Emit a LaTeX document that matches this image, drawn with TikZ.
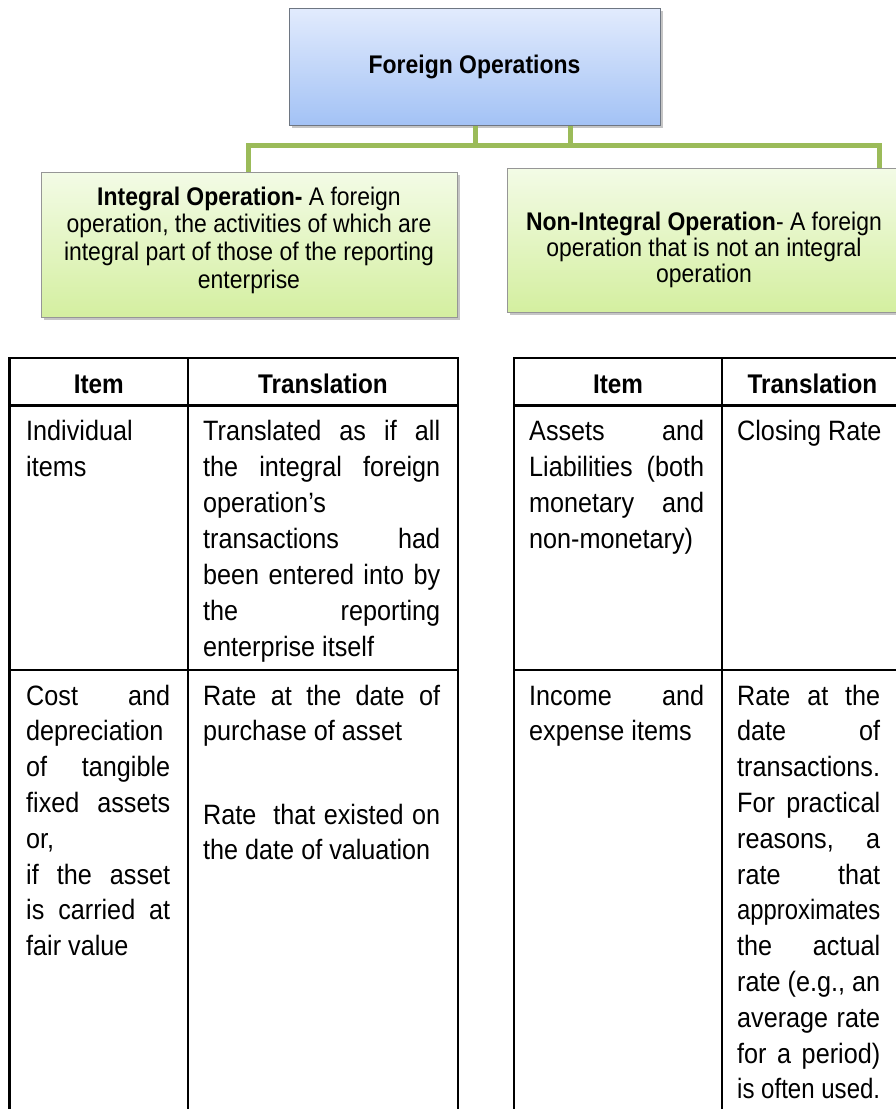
\documentclass[tikz,border=0pt]{standalone}
\usepackage{fontspec}
\setmainfont{Liberation Sans}[FakeStretch=0.9]
\usetikzlibrary{shadows}
\definecolor{topA}{RGB}{226,235,253}
\definecolor{topB}{RGB}{163,194,245}
\definecolor{grA}{RGB}{243,251,230}
\definecolor{grB}{RGB}{212,239,160}
\definecolor{linkG}{RGB}{155,187,89}
\definecolor{bordB}{RGB}{110,118,130}
\definecolor{bordG}{RGB}{150,150,150}
\newcommand\Lj[5]{\node[tx] (#1) at (#2,#3) {\makebox[#4pt][s]{#5}};}
\newcommand\Ln[4]{\node[tx] (#1) at (#2,#3) {#4};}
\newcommand\Ls[5]{\node[tx] (#1) at (#2,#3) {\resizebox{#4pt}{\height}{#5}};}
\begin{document}
\begin{tikzpicture}[x=1pt,y=-1pt,
  topbox/.style={draw=bordB, line width=1pt, top color=topA, bottom color=topB,
    drop shadow={shadow xshift=2.5pt, shadow yshift=-2.5pt, opacity=0.45},
    minimum width=371pt, minimum height=117pt, inner sep=0pt,
    font=\fontsize{25.5}{30}\selectfont\bfseries},
  grbox/.style={draw=bordG, line width=1pt, top color=grA, bottom color=grB,
    drop shadow={shadow xshift=2.5pt, shadow yshift=-2.5pt, opacity=0.45},
    inner sep=0pt},
  grtext/.style={align=center, inner sep=0pt},
  link/.style={draw=linkG, line width=5pt, line join=miter},
  tbl/.style={draw=black, line width=2.8pt, line join=miter},
  tx/.style={anchor=base west, inner sep=0pt, font=\fontsize{28}{34}\selectfont},
  hd/.style={anchor=base, inner sep=0pt, font=\fontsize{27}{32}\selectfont\bfseries},
]
\useasboundingbox (0,0) rectangle (896,1109);
\fill[white] (0,0) rectangle (896,1109);

% --- top hierarchy ---
\node[topbox] (top) at (474.5,66.5) {Foreign Operations};
\node[grbox, minimum width=416pt, minimum height=145pt] (intg) at (249,244.5) {};
\node[grbox, minimum width=394pt, minimum height=144pt] (nonint) at (704,240) {};
\node[grtext, font=\fontsize{25.5}{27.7}\selectfont] (intgtx) at (249,240)
  {\textbf{Integral Operation-} A foreign\\operation, the activities of which are\\integral part of those of the reporting\\enterprise};
\node[grtext, font=\fontsize{25.5}{26}\selectfont] (nonintx) at (704,249.5)
  {\textbf{Non-Integral Operation}- A foreign\\operation that is not an integral\\operation};

\coordinate (s1) at (475,145);
\coordinate (s2) at (570,145);
\coordinate (bl) at (248,145);
\coordinate (br) at (879,145);
\draw[link] (top.south -| s1) -- (s1);
\draw[link] (top.south -| s2) -- (s2);
\draw[link] (bl |- intg.north) -- (bl) -- (br) -- (br |- nonint.north);

% --- tables ---
\draw[tbl] (9.5,1109) -- (9.5,358) -- (458,358) -- (458,1109);
\draw[tbl] (9.5,405.5) -- (458,405.5);
\draw[tbl] (9.5,670) -- (458,670);
\draw[tbl] (188,358) -- (188,1109);

\draw[tbl] (514,1109) -- (514,358) -- (896,358);
\draw[tbl] (514,405.5) -- (896,405.5);
\draw[tbl] (514,670) -- (896,670);
\draw[tbl] (722,358) -- (722,1109);

\node[hd] (h1) at (98.75,393) {Item};
\node[hd] (h2) at (323,393) {Translation};
\node[hd] (h3) at (618,393) {Item};
\node[hd] (h4) at (812.5,393) {Translation};

% left table, row 1
\Ln{a1}{26}{440}{Individual}
\Ln{a2}{26}{476}{items}
\Lj{b1}{203}{440}{237}{Translated as if all}
\Lj{b2}{203}{476}{237}{the integral foreign}
\Ln{b3}{203}{512}{operation’s}
\Lj{b4}{203}{548}{237}{transactions had}
\Lj{b5}{203}{584}{237}{been entered into by}
\Lj{b6}{203}{620}{237}{the reporting}
\Ln{b7}{203}{656}{enterprise itself}

% left table, row 2
\Lj{c1}{26}{705}{144}{Cost and}
\Ln{c2}{26}{740.8}{depreciation}
\Lj{c3}{26}{776.6}{144}{of tangible}
\Lj{c4}{26}{812.4}{144}{fixed assets}
\Ln{c5}{26}{848.2}{or,}
\Lj{c6}{26}{884}{144}{if the asset}
\Lj{c7}{26}{919.8}{144}{is carried at}
\Ln{c8}{26}{955.6}{fair value}
\Lj{d1}{203}{705}{237}{Rate at the date of}
\Ln{d2}{203}{740.8}{purchase of asset}
\Lj{d3}{203}{824}{237}{Rate\ \ that existed on}
\Ln{d4}{203}{859.5}{the date of valuation}

% right table, row 1
\Lj{e1}{529}{440}{175}{Assets and}
\Lj{e2}{529}{476}{175}{Liabilities (both}
\Lj{e3}{529}{512}{175}{monetary and}
\Ln{e4}{529}{548}{non-monetary)}
\Ln{f1}{737}{440}{Closing Rate}

% right table, row 2
\Lj{g1}{529}{705}{175}{Income and}
\Ln{g2}{529}{740.8}{expense items}
\Lj{k1}{737}{705}{143}{Rate at the}
\Lj{k2}{737}{740.8}{143}{date of}
\Ln{k3}{737}{776.6}{transactions.}
\Lj{k4}{737}{812.4}{143}{For practical}
\Lj{k5}{737}{848.2}{143}{reasons, a}
\Lj{k6}{737}{884}{143}{rate that}
\Ls{k7}{737}{919.8}{143}{approximates}
\Lj{k8}{737}{955.6}{143}{the actual}
\Lj{k9}{737}{991.4}{143}{rate (e.g., an}
\Lj{k10}{737}{1027.2}{143}{average rate}
\Lj{k11}{737}{1063}{143}{for a period)}
\Ls{k12}{737}{1098.8}{143}{is often used.}
\end{tikzpicture}
\end{document}
